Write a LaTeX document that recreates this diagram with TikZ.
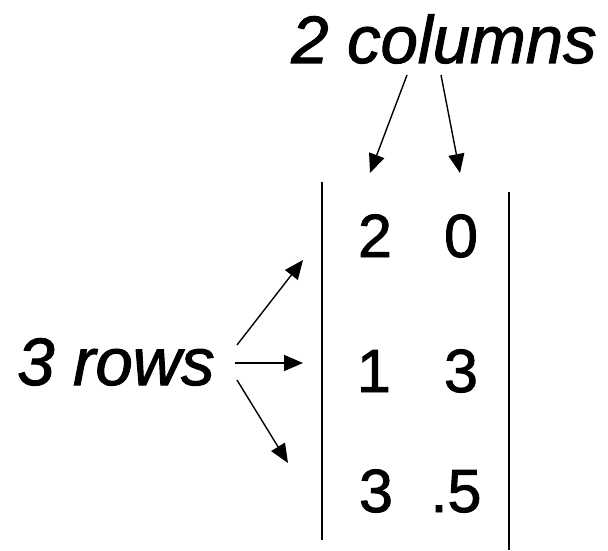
\documentclass[tikz,border=0pt]{standalone}
\usepackage{fontspec}
\setmainfont{Liberation Sans}
\newfontfamily\heavysans{Liberation Sans}[FakeBold=1.5]
\usetikzlibrary{arrows.meta}
\tikzset{
  label/.style={font=\heavysans\fontsize{67}{67}\selectfont\itshape, inner sep=0pt, anchor=base},
  entry/.style={font=\heavysans\fontsize{61}{61}\selectfont, inner sep=0pt, anchor=base},
  pointer/.style={line width=1.4pt, -{Triangle[length=19pt,width=16pt]}},
  bar/.style={line width=1.7pt}
}
\begin{document}
\begin{tikzpicture}[x=1pt,y=-1pt]
  \useasboundingbox (0,0) rectangle (608,551);

  % labels
  \node[label] (cols) at (444,63) {2 columns};
  \node[label] (rows) at (116,385) {3 rows};

  % matrix entries
  \node[entry] (a11) at (375,257) {2};
  \node[entry] (a12) at (461,257) {0};
  \node[entry] (a21) at (374,392) {1};
  \node[entry] (a22) at (461,392) {3};
  \node[entry] (a31) at (376,512) {3};
  \node[entry] (a32) at (456,512) {.5};

  % brackets of the matrix
  \coordinate (lt) at (322,182);
  \coordinate (lb) at (322,540);
  \coordinate (rt) at (509,192);
  \coordinate (rb) at (509,550);
  \draw[bar] (lt) -- (lb);
  \draw[bar] (rt) -- (rb);

  % arrow ends
  \coordinate (c1s) at (407,75);
  \coordinate (c1e) at (370,173);
  \coordinate (c2s) at (441,75);
  \coordinate (c2e) at (460,173);
  \coordinate (r1s) at (237,345);
  \coordinate (r1e) at (303,260);
  \coordinate (r2s) at (235,363);
  \coordinate (r2e) at (303,363);
  \coordinate (r3s) at (237,380);
  \coordinate (r3e) at (288,463);

  \draw[pointer] (c1s) -- (c1e);
  \draw[pointer] (c2s) -- (c2e);
  \draw[pointer] (r1s) -- (r1e);
  \draw[pointer] (r2s) -- (r2e);
  \draw[pointer] (r3s) -- (r3e);
\end{tikzpicture}
\end{document}
